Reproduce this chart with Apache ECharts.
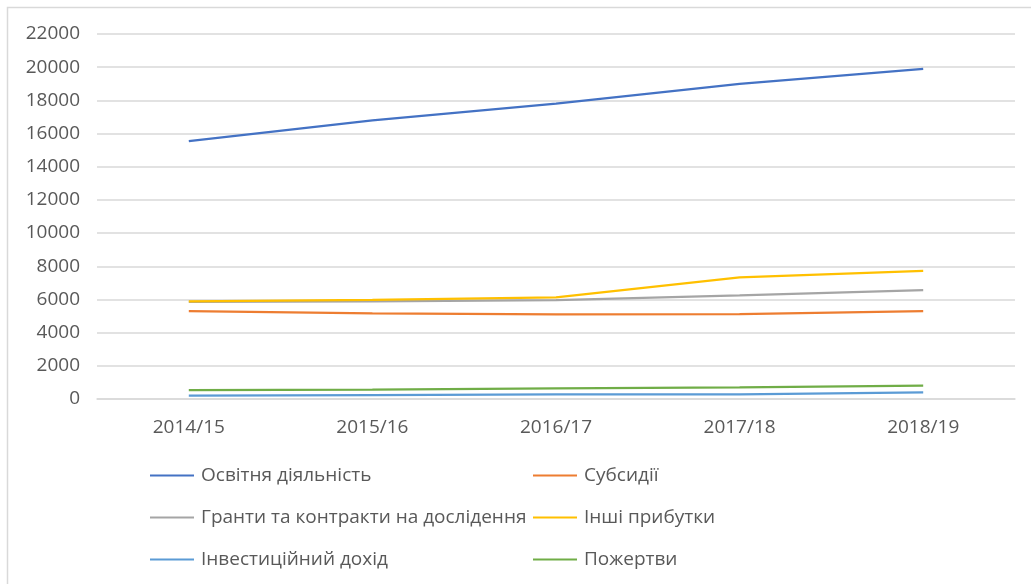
<!DOCTYPE html>
<html>
<head>
<meta charset="utf-8">
<script src="https://cdn.jsdelivr.net/npm/echarts@6/dist/echarts.min.js"></script>
<style>
html,body{margin:0;padding:0;background:#fff;}
#c{width:1031px;height:584px;}
</style>
</head>
<body>
<div id="c"></div>
<script>
const categories = ['2014/15', '2015/16', '2016/17', '2017/18', '2018/19'];
const seriesNames = ['Освітня діяльність', 'Субсидії', 'Гранти та контракти на дослідення', 'Інші прибутки', 'Інвестиційний дохід', 'Пожертви'];
const osvitnia = [15550, 16800, 17800, 19000, 19900];
const subsydii = [5300, 5160, 5100, 5120, 5300];
const granty = [5850, 5880, 5960, 6250, 6560];
const inshi = [5890, 5980, 6130, 7330, 7730];
const investytsiinyi = [200, 240, 280, 280, 400];
const pozhertvy = [540, 560, 640, 700, 800];
const yTicks = { min: 0, max: 22000, interval: 2000 };
const colors = ['#4472C4', '#ED7D31', '#A5A5A5', '#FFC000', '#5B9BD5', '#70AD47'];

const allData = [osvitnia, subsydii, granty, inshi, investytsiinyi, pozhertvy];
const font = '"Open Sans", "Liberation Sans", sans-serif';

const chart = echarts.init(document.getElementById('c'), null, { renderer: 'canvas' });
const legendText = { fontFamily: font, fontSize: 19, color: '#595959', lineHeight: 19, padding: [0, 0, 0, 2] };
chart.setOption({
  animation: false,
  backgroundColor: '#fff',
  color: colors,
  graphic: [{
    type: 'rect', left: 5, top: 5, shape: { width: 1100, height: 700 },
    style: { fill: 'none', stroke: '#d9d9d9', lineWidth: 1.5 }, silent: true, z: -1
  }],
  grid: { left: 97, right: 16, top: 34, bottom: 185, containLabel: false },
  legend: [
    {
      orient: 'vertical', left: 145, top: 461, itemGap: 23, itemWidth: 44, itemHeight: 2,
      icon: 'rect', textStyle: legendText,
      data: [seriesNames[0], seriesNames[2], seriesNames[4]]
    },
    {
      orient: 'vertical', left: 528, top: 461, itemGap: 23, itemWidth: 44, itemHeight: 2,
      icon: 'rect', textStyle: legendText,
      data: [seriesNames[1], seriesNames[3], seriesNames[5]]
    }
  ],
  xAxis: {
    type: 'category', data: categories, boundaryGap: true,
    axisLine: { show: true, lineStyle: { color: '#d9d9d9', width: 1.5 } },
    axisTick: { show: false },
    axisLabel: { fontFamily: font, fontSize: 19, color: '#595959', margin: 19 }
  },
  yAxis: {
    type: 'value', min: yTicks.min, max: yTicks.max, interval: yTicks.interval,
    axisLine: { show: false }, axisTick: { show: false },
    splitLine: { lineStyle: { color: '#d9d9d9', width: 1.5 } },
    axisLabel: { fontFamily: font, fontSize: 19, color: '#595959', margin: 17, formatter: v => String(v) }
  },
  series: seriesNames.map((n, i) => ({
    name: n, type: 'line', data: allData[i], symbol: 'none',
    lineStyle: { width: 2.25, color: colors[i] }, itemStyle: { color: colors[i] }
  }))
});
</script>
</body>
</html>
